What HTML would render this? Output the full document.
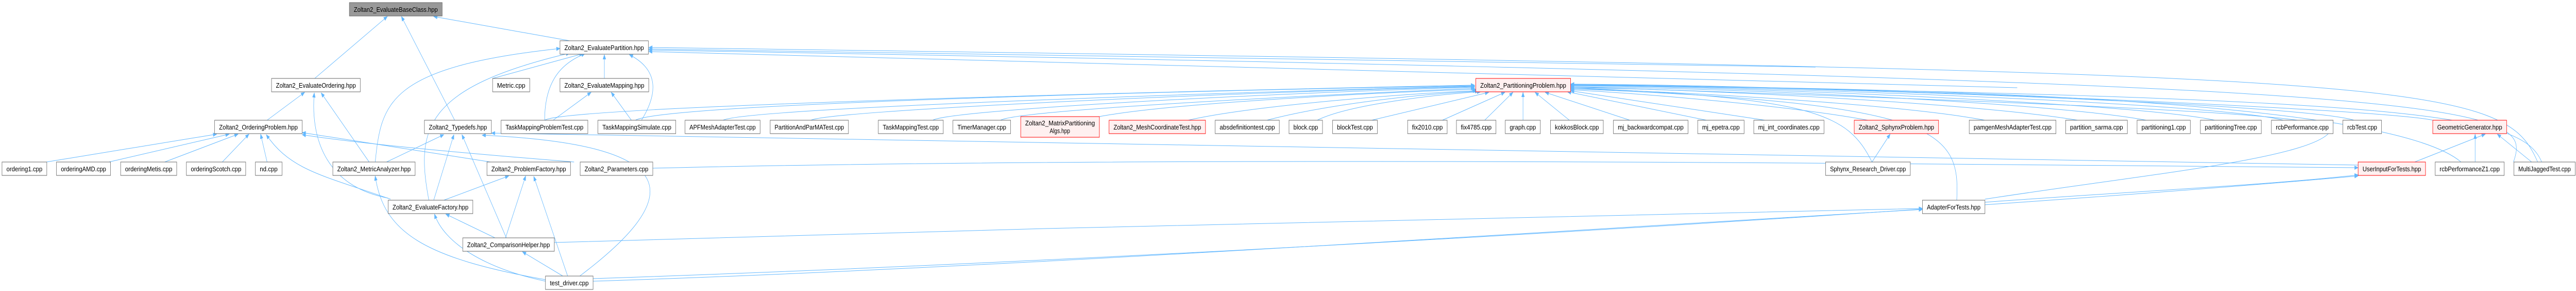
<!DOCTYPE html>
<html><head><meta charset="utf-8"><style>
html,body{margin:0;padding:0;background:#fff;width:100%;height:100%;overflow:hidden;}
svg{display:block;position:absolute;left:0;top:0;width:100vw;height:100vh;}
.b{fill:#fff;stroke:#666;stroke-width:1;}
.g{fill:#999;stroke:#666;stroke-width:1;}
.r{fill:#FFF0F0;stroke:#F00;stroke-width:1;}
text{font-family:"Liberation Sans",sans-serif;font-size:13px;fill:#000;}
.e{fill:none;stroke:#63B8FF;stroke-width:1;}
</style></head><body>
<svg viewBox="0 0 6385 564" preserveAspectRatio="none" xmlns="http://www.w3.org/2000/svg">
<defs><marker id="a" markerWidth="10" markerHeight="8" refX="9" refY="4" orient="auto" markerUnits="userSpaceOnUse"><path d="M0,0 L10,4 L0,8 Z" fill="#63B8FF"/></marker></defs>
<g class="e" marker-end="url(#a)">
<path d="M780,152 L960,32"/>
<path d="M1412,79 L1075,32"/>
<path d="M1127,233 L995,32"/>
<path d="M662,233 L755,179"/>
<path d="M115,314 L537,260"/>
<path d="M270,314 L568,260"/>
<path d="M408,314 L590,260"/>
<path d="M551,314 L617,260"/>
<path d="M662,314 L646,260"/>
<path d="M968,386 C800,340 720,330 660,261"/>
<path d="M962,384 C800,360 770,260 779,180"/>
<path d="M915,314 L796,180"/>
<path d="M958,314 L1100,261"/>
<path d="M930,314 C945,200 960,130 1388,94"/>
<path d="M1063,388 C1030,250 1050,170 1412,103"/>
<path d="M1075,388 L1125,261"/>
<path d="M1100,388 L1261,341"/>
<path d="M1227,461 L1105,415"/>
<path d="M1253,461 L1303,341"/>
<path d="M1255,461 L1145,261"/>
<path d="M1216,314 L749,257"/>
<path d="M1423,314 C1200,300 900,280 749,261"/>
<path d="M1395,535 L1295,488"/>
<path d="M1407,535 L1323,342"/>
<path d="M1437,535 C1700,380 1700,280 1195,262"/>
<path d="M1352,542 C1050,500 950,450 930,341"/>
<path d="M1352,545 C1200,520 1100,470 1077,415"/>
<path d="M1221,152 L1445,104"/>
<path d="M1498,152 L1498,106"/>
<path d="M1350,233 C1350,150 1400,120 1450,104"/>
<path d="M1590,233 C1640,170 1620,130 1560,106"/>
<path d="M1371,233 L1465,179"/>
<path d="M1565,233 L1515,179"/>
<path d="M4500,130 C3000,110 2000,100 1608,95"/>
<path d="M6290,314 C6200,150 6000,140 1608,92"/>
<path d="M6230,314 C6280,200 6200,160 1608,97"/>
<path d="M5000,170 C3000,130 2000,100 1608,100"/>
<path d="M1350,233 C1400,205 3000,175 3655,165"/>
<path d="M1575,233 C1650,200 3000,175 3655,166"/>
<path d="M1792,233 C1850,210 3000,180 3655,167"/>
<path d="M2010,233 C2050,215 3000,180 3655,168"/>
<path d="M2312,233 C2350,215 3000,185 3655,169"/>
<path d="M2480,233 C2520,215 3100,190 3655,171"/>
<path d="M2725,226 C2900,200 3400,180 3658,173"/>
<path d="M2945,233 C3100,205 3500,180 3660,176"/>
<path d="M3140,233 C3300,200 3550,180 3665,177"/>
<path d="M3265,233 C3350,200 3600,180 3670,178"/>
<path d="M3400,233 L3690,179"/>
<path d="M3575,233 L3730,179"/>
<path d="M3680,233 L3750,179"/>
<path d="M3775,233 L3775,179"/>
<path d="M3890,233 L3805,179"/>
<path d="M4040,233 L3830,179"/>
<path d="M4230,233 L3885,178"/>
<path d="M4375,233 L3893,176"/>
<path d="M4630,233 C4400,200 4000,178 3893,174"/>
<path d="M4920,233 C4700,200 4100,175 3893,172"/>
<path d="M5150,233 C4900,200 4200,172 3893,170"/>
<path d="M5320,233 C5100,200 4300,170 3893,168"/>
<path d="M5490,233 C5300,200 4300,168 3893,166"/>
<path d="M5660,233 C5500,200 4400,168 3893,165"/>
<path d="M5835,233 C5700,200 4400,166 3893,164"/>
<path d="M6030,233 C5900,210 4500,165 3893,163"/>
<path d="M4640,314 C4580,220 4500,190 3893,170"/>
<path d="M4850,388 C4860,250 4800,200 3893,172"/>
<path d="M6100,314 C5900,180 4500,168 3893,166"/>
<path d="M6300,314 C6250,220 6000,190 3893,164"/>
<path d="M4640,314 L4685,260"/>
<path d="M5985,314 L6160,260"/>
<path d="M6135,314 L6135,260"/>
<path d="M6275,314 L6190,260"/>
<path d="M1470,545 C2500,520 4000,440 4765,406"/>
<path d="M1374,470 C2500,440 4000,420 4765,404"/>
<path d="M4920,392 C5300,370 5600,360 5845,339"/>
<path d="M1470,540 C3000,500 5000,400 5845,341"/>
<path d="M1618,326 C3000,300 5000,320 5845,325"/>
<path d="M4920,386 C5300,340 5700,310 5770,260 C5800,230 5700,215 3893,168"/>
<path d="M5845,320 C4000,300 2500,270 1218,258"/>
</g>
<rect class="g" x="866" y="5" width="230" height="26"/><text x="877" y="23" textLength="208" lengthAdjust="spacingAndGlyphs">Zoltan2_EvaluateBaseClass.hpp</text>
<rect class="b" x="1388" y="79" width="219" height="26"/><text x="1399" y="97" textLength="197" lengthAdjust="spacingAndGlyphs">Zoltan2_EvaluatePartition.hpp</text>
<rect class="b" x="673" y="152" width="220" height="26"/><text x="684" y="170" textLength="198" lengthAdjust="spacingAndGlyphs">Zoltan2_EvaluateOrdering.hpp</text>
<rect class="b" x="1221" y="152" width="92" height="26"/><text x="1232" y="170" textLength="70" lengthAdjust="spacingAndGlyphs">Metric.cpp</text>
<rect class="b" x="1388" y="152" width="220" height="26"/><text x="1399" y="170" textLength="198" lengthAdjust="spacingAndGlyphs">Zoltan2_EvaluateMapping.hpp</text>
<rect class="r" x="3658" y="152" width="235" height="26"/><text x="3669" y="170" textLength="213" lengthAdjust="spacingAndGlyphs">Zoltan2_PartitioningProblem.hpp</text>
<rect class="b" x="532" y="233" width="217" height="26"/><text x="543" y="251" textLength="195" lengthAdjust="spacingAndGlyphs">Zoltan2_OrderingProblem.hpp</text>
<rect class="b" x="1052" y="233" width="166" height="26"/><text x="1063" y="251" textLength="144" lengthAdjust="spacingAndGlyphs">Zoltan2_Typedefs.hpp</text>
<rect class="b" x="1242" y="233" width="215" height="26"/><text x="1253" y="251" textLength="193" lengthAdjust="spacingAndGlyphs">TaskMappingProblemTest.cpp</text>
<rect class="b" x="1482" y="233" width="193" height="26"/><text x="1493" y="251" textLength="171" lengthAdjust="spacingAndGlyphs">TaskMappingSimulate.cpp</text>
<rect class="b" x="1698" y="233" width="186" height="26"/><text x="1709" y="251" textLength="164" lengthAdjust="spacingAndGlyphs">APFMeshAdapterTest.cpp</text>
<rect class="b" x="1909" y="233" width="194" height="26"/><text x="1920" y="251" textLength="172" lengthAdjust="spacingAndGlyphs">PartitionAndParMATest.cpp</text>
<rect class="b" x="2177" y="233" width="161" height="26"/><text x="2188" y="251" textLength="139" lengthAdjust="spacingAndGlyphs">TaskMappingTest.cpp</text>
<rect class="b" x="2362" y="233" width="143" height="26"/><text x="2373" y="251" textLength="121" lengthAdjust="spacingAndGlyphs">TimerManager.cpp</text>
<rect class="r" x="2530" y="226" width="195" height="40"/><text x="2541" y="243" textLength="173" lengthAdjust="spacingAndGlyphs">Zoltan2_MatrixPartitioning</text><text x="2627" y="258" text-anchor="middle">Algs.hpp</text>
<rect class="r" x="2749" y="233" width="239" height="26"/><text x="2760" y="251" textLength="217" lengthAdjust="spacingAndGlyphs">Zoltan2_MeshCoordinateTest.hpp</text>
<rect class="b" x="3012" y="233" width="159" height="26"/><text x="3023" y="251" textLength="137" lengthAdjust="spacingAndGlyphs">absdefinitiontest.cpp</text>
<rect class="b" x="3195" y="233" width="83" height="26"/><text x="3206" y="251" textLength="61" lengthAdjust="spacingAndGlyphs">block.cpp</text>
<rect class="b" x="3303" y="233" width="111" height="26"/><text x="3314" y="251" textLength="89" lengthAdjust="spacingAndGlyphs">blockTest.cpp</text>
<rect class="b" x="3489" y="233" width="98" height="26"/><text x="3500" y="251" textLength="76" lengthAdjust="spacingAndGlyphs">fix2010.cpp</text>
<rect class="b" x="3610" y="233" width="98" height="26"/><text x="3621" y="251" textLength="76" lengthAdjust="spacingAndGlyphs">fix4785.cpp</text>
<rect class="b" x="3731" y="233" width="87" height="26"/><text x="3742" y="251" textLength="65" lengthAdjust="spacingAndGlyphs">graph.cpp</text>
<rect class="b" x="3843" y="233" width="131" height="26"/><text x="3854" y="251" textLength="109" lengthAdjust="spacingAndGlyphs">kokkosBlock.cpp</text>
<rect class="b" x="3999" y="233" width="185" height="26"/><text x="4010" y="251" textLength="163" lengthAdjust="spacingAndGlyphs">mj_backwardcompat.cpp</text>
<rect class="b" x="4208" y="233" width="115" height="26"/><text x="4219" y="251" textLength="93" lengthAdjust="spacingAndGlyphs">mj_epetra.cpp</text>
<rect class="b" x="4347" y="233" width="174" height="26"/><text x="4358" y="251" textLength="152" lengthAdjust="spacingAndGlyphs">mj_int_coordinates.cpp</text>
<rect class="r" x="4596" y="233" width="209" height="26"/><text x="4607" y="251" textLength="187" lengthAdjust="spacingAndGlyphs">Zoltan2_SphynxProblem.hpp</text>
<rect class="b" x="4881" y="233" width="215" height="26"/><text x="4892" y="251" textLength="193" lengthAdjust="spacingAndGlyphs">pamgenMeshAdapterTest.cpp</text>
<rect class="b" x="5120" y="233" width="153" height="26"/><text x="5131" y="251" textLength="131" lengthAdjust="spacingAndGlyphs">partition_sarma.cpp</text>
<rect class="b" x="5297" y="233" width="132" height="26"/><text x="5308" y="251" textLength="110" lengthAdjust="spacingAndGlyphs">partitioning1.cpp</text>
<rect class="b" x="5454" y="233" width="151" height="26"/><text x="5465" y="251" textLength="129" lengthAdjust="spacingAndGlyphs">partitioningTree.cpp</text>
<rect class="b" x="5630" y="233" width="153" height="26"/><text x="5641" y="251" textLength="131" lengthAdjust="spacingAndGlyphs">rcbPerformance.cpp</text>
<rect class="b" x="5807" y="233" width="96" height="26"/><text x="5818" y="251" textLength="74" lengthAdjust="spacingAndGlyphs">rcbTest.cpp</text>
<rect class="r" x="6030" y="233" width="183" height="26"/><text x="6041" y="251" textLength="161" lengthAdjust="spacingAndGlyphs">GeometricGenerator.hpp</text>
<rect class="b" x="5" y="314" width="111" height="26"/><text x="16" y="332" textLength="89" lengthAdjust="spacingAndGlyphs">ordering1.cpp</text>
<rect class="b" x="140" y="314" width="134" height="26"/><text x="151" y="332" textLength="112" lengthAdjust="spacingAndGlyphs">orderingAMD.cpp</text>
<rect class="b" x="299" y="314" width="139" height="26"/><text x="310" y="332" textLength="117" lengthAdjust="spacingAndGlyphs">orderingMetis.cpp</text>
<rect class="b" x="462" y="314" width="147" height="26"/><text x="473" y="332" textLength="125" lengthAdjust="spacingAndGlyphs">orderingScotch.cpp</text>
<rect class="b" x="633" y="314" width="66" height="26"/><text x="644" y="332" textLength="44" lengthAdjust="spacingAndGlyphs">nd.cpp</text>
<rect class="b" x="825" y="314" width="204" height="26"/><text x="836" y="332" textLength="182" lengthAdjust="spacingAndGlyphs">Zoltan2_MetricAnalyzer.hpp</text>
<rect class="b" x="1207" y="314" width="207" height="26"/><text x="1218" y="332" textLength="185" lengthAdjust="spacingAndGlyphs">Zoltan2_ProblemFactory.hpp</text>
<rect class="b" x="1438" y="314" width="180" height="26"/><text x="1449" y="332" textLength="158" lengthAdjust="spacingAndGlyphs">Zoltan2_Parameters.cpp</text>
<rect class="b" x="4525" y="314" width="210" height="26"/><text x="4536" y="332" textLength="188" lengthAdjust="spacingAndGlyphs">Sphynx_Research_Driver.cpp</text>
<rect class="r" x="5845" y="314" width="167" height="26"/><text x="5856" y="332" textLength="145" lengthAdjust="spacingAndGlyphs">UserInputForTests.hpp</text>
<rect class="b" x="6036" y="314" width="171" height="26"/><text x="6047" y="332" textLength="149" lengthAdjust="spacingAndGlyphs">rcbPerformanceZ1.cpp</text>
<rect class="b" x="6231" y="314" width="152" height="26"/><text x="6242" y="332" textLength="130" lengthAdjust="spacingAndGlyphs">MultiJaggedTest.cpp</text>
<rect class="b" x="962" y="388" width="210" height="26"/><text x="973" y="406" textLength="188" lengthAdjust="spacingAndGlyphs">Zoltan2_EvaluateFactory.hpp</text>
<rect class="b" x="4765" y="388" width="155" height="26"/><text x="4776" y="406" textLength="133" lengthAdjust="spacingAndGlyphs">AdapterForTests.hpp</text>
<rect class="b" x="1147" y="461" width="227" height="26"/><text x="1158" y="479" textLength="205" lengthAdjust="spacingAndGlyphs">Zoltan2_ComparisonHelper.hpp</text>
<rect class="b" x="1352" y="535" width="118" height="26"/><text x="1363" y="553" textLength="96" lengthAdjust="spacingAndGlyphs">test_driver.cpp</text>
</svg>
</body></html>
